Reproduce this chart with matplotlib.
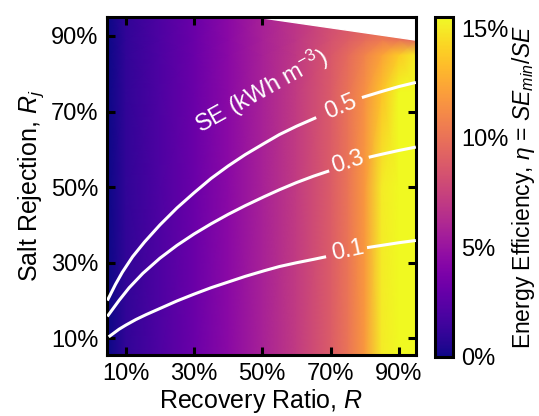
import numpy as np
import matplotlib
matplotlib.use("Agg")
import matplotlib.pyplot as plt

plt.rcParams['font.family'] = ['Liberation Sans', 'DejaVu Sans']
plt.rcParams['mathtext.fontset'] = 'custom'
plt.rcParams['mathtext.rm'] = 'Liberation Sans'
plt.rcParams['mathtext.it'] = 'Liberation Sans:italic'

recovery = [5, 10, 20, 30, 40, 50, 60, 70, 75, 80, 85, 90, 95]
rejection = [5, 50, 75, 85, 89, 95]
# energy efficiency eta (fraction), one row per rejection value
eta_5 = [0.0, 0.010, 0.020, 0.031, 0.044, 0.057, 0.071, 0.089, 0.101, 0.118, 0.150, 0.175, 0.200]
eta_50 = [0.0, 0.010, 0.020, 0.031, 0.044, 0.057, 0.071, 0.089, 0.101, 0.118, 0.150, 0.175, 0.200]
eta_75 = [0.0, 0.010, 0.020, 0.031, 0.044, 0.057, 0.071, 0.088, 0.100, 0.114, 0.135, 0.158, 0.180]
eta_85 = [0.0, 0.010, 0.020, 0.031, 0.044, 0.057, 0.070, 0.086, 0.096, 0.108, 0.122, 0.138, 0.150]
eta_89 = [0.0, 0.010, 0.020, 0.031, 0.044, 0.057, 0.069, 0.083, 0.090, 0.097, 0.103, 0.100, 0.095]
eta_95 = [0.0, 0.010, 0.020, 0.031, 0.044, 0.057, 0.068, 0.080, 0.085, 0.090, 0.092, 0.090, 0.085]

# infeasible region edge (white area, upper right)
edge_R = [49, 95]
edge_Rj = [95, 89]

# SE contours, two pieces each (gap where the label sits)
se05_R = [[4.6, 7, 9, 12, 15.5, 20, 25, 30, 35, 40, 45, 50.6, 55, 60, 65.8],
          [79.2, 85, 90, 95]]
se05_Rj = [[20.0, 24.3, 27.5, 31.6, 35.5, 40.0, 44.5, 48.5, 52.3, 55.6, 58.6, 61.6, 63.9, 66.1, 68.4],
           [73.7, 75.3, 76.6, 77.7]]
se03_R = [[4.6, 8, 11, 15, 20, 25, 30, 35, 40, 45, 50.6, 55, 60, 65, 69.6],
          [81.2, 85, 90, 95]]
se03_Rj = [[15.8, 20.0, 23.4, 27.2, 31.2, 34.6, 37.6, 40.3, 42.8, 45.1, 47.5, 49.3, 51.2, 52.9, 54.3],
           [57.9, 58.7, 59.7, 60.6]]
se01_R = [[5.0, 8, 10, 13, 16, 20, 25, 30, 35, 40, 45, 50.6, 55, 60, 65, 68.7],
          [80.7, 85, 90, 95]]
se01_Rj = [[10.4, 12.4, 13.5, 15.0, 16.3, 17.9, 19.9, 21.7, 23.4, 24.9, 26.4, 27.9, 29.0, 30.0, 30.9, 31.6],
           [34.0, 34.6, 35.3, 35.9]]

levels = ["0.5", "0.3", "0.1"]
label_R = [73.1, 75.1, 75.1]
label_Rj = [71.1, 56.6, 33.3]
label_rot = [23, 18, 12]

ticks = [10, 30, 50, 70, 90]
cbar_ticks = [0, 0.05, 0.10, 0.15]

fig = plt.figure(figsize=(5.39, 4.16), dpi=100)
ax = fig.add_axes([0.1985, 0.1466, 0.573, 0.8125])
cax = fig.add_axes([0.807, 0.142, 0.0334, 0.817])

eta = np.array([eta_5, eta_50, eta_75, eta_85, eta_89, eta_95])
mesh = ax.pcolormesh(recovery, rejection, eta, shading='gouraud',
                     cmap='plasma', vmin=0, vmax=0.155, rasterized=True)
ax.fill_between(edge_R, edge_Rj, 100, color='white', zorder=2)

for xs, ys in [(se05_R, se05_Rj), (se03_R, se03_Rj), (se01_R, se01_Rj)]:
    for px, py in zip(xs, ys):
        ax.plot(px, py, color='white', lw=2.2, solid_capstyle='butt',
                solid_joinstyle='round', zorder=3)

for lev, lx, ly, rot in zip(levels, label_R, label_Rj, label_rot):
    ax.text(lx, ly, lev, color='white', fontsize=17, rotation=rot,
            ha='center', va='center', rotation_mode='anchor', zorder=4)
ax.text(49.7, 75.3, r'SE (kWh m$^{-3}$)', color='white', fontsize=17,
        rotation=29, ha='center', va='center', rotation_mode='anchor', zorder=4)

ax.set_xlim(4.5, 95)
ax.set_ylim(5.6, 95)
ax.set_xticks(ticks)
ax.set_yticks(ticks)
ax.set_xticklabels([f"{t}%" for t in ticks])
ax.set_yticklabels([f"{t}%" for t in ticks])
ax.tick_params(direction='in', length=6, width=2.2, labelsize=17,
               top=True, right=True, pad=6)
for s in ax.spines.values():
    s.set_linewidth(2.2)
ax.set_xlabel(r'Recovery Ratio, $R$', fontsize=18, labelpad=1)
ax.set_ylabel(r'Salt Rejection, $R_j$', fontsize=18, labelpad=4)

cb = fig.colorbar(mesh, cax=cax, ticks=cbar_ticks)
cb.ax.set_yticklabels([f"{int(round(t * 100))}%" for t in cbar_ticks])
cb.ax.tick_params(length=0, labelsize=17, pad=6)
cb.outline.set_linewidth(2.2)
cb.set_label(r'Energy Efficiency, $\eta$ = $SE_{min}$/$SE$', fontsize=16.5,
             labelpad=1)

fig.savefig('out.png', dpi=100)
